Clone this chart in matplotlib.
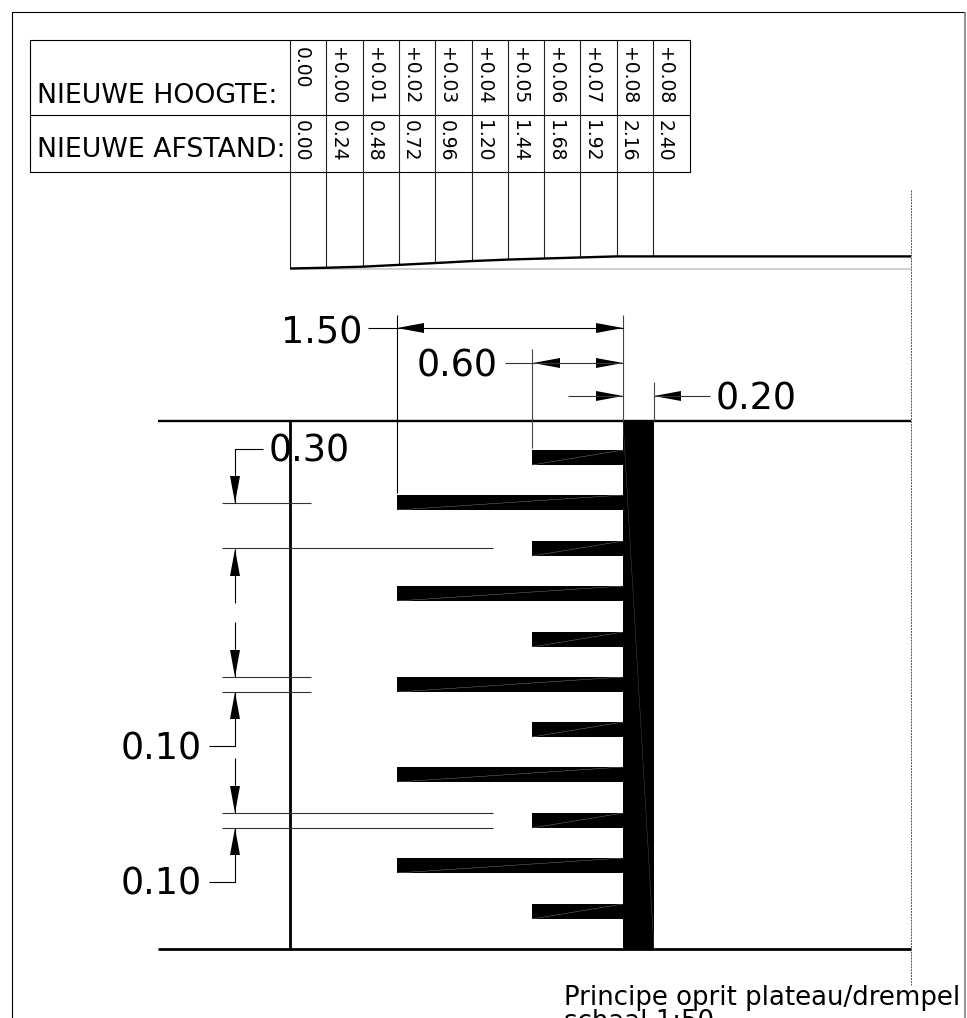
import matplotlib
matplotlib.use('Agg')
import matplotlib.pyplot as plt

# table
hoogte = ['0.00', '+0.00', '+0.01', '+0.02', '+0.03', '+0.04', '+0.05', '+0.06', '+0.07', '+0.08', '+0.08']
afstand = [0.00, 0.24, 0.48, 0.72, 0.96, 1.20, 1.44, 1.68, 1.92, 2.16, 2.40]
# profile as drawn, less rounded than the table
profiel = [0.000, 0.005, 0.012, 0.024, 0.036, 0.049, 0.059, 0.066, 0.073, 0.080, 0.080]

# strips of the plateau, pixel rows of their top edge
lang_y = [495, 586, 677, 767, 858]
kort_y = [450, 541, 632, 722, 813, 904]

# dimension labels
maat_boven = ['1.50', '0.60', '0.20']
maat_links = ['0.30', '0.10', '0.10']

X0 = 290
SCALE = 151.3
LW = 0.8
MAAT = 26.3


def line(xs, ys, lw=LW, c='k', **kw):
    ax.plot(xs, ys, color=c, lw=lw, solid_capstyle='butt', **kw)


def arrow(x, y, dx, dy):
    # tip at x,y and tail along dx,dy
    L = 27
    w = 5
    ax.fill([x, x + dx * L - dy * w, x + dx * L + dy * w],
            [y, y + dy * L - dx * w, y + dy * L + dx * w], color='k', lw=0)


fig = plt.figure(figsize=(9.67, 10.18), dpi=100)
ax = fig.add_axes([0, 0, 1, 1])
ax.set_xlim(0, 967)
ax.set_ylim(1018, 0)
ax.axis('off')

# page border
line([12, 12, 965], [1018, 12, 12], lw=0.8)
line([965, 965], [12, 1018], lw=1.2, c='#808080')

# table
line([30, 690, 690, 30, 30], [40, 40, 172, 172, 40])
line([30, 690], [115, 115])
ax.text(37, 93, 'NIEUWE HOOGTE:', fontsize=19.3, ha='left', va='center_baseline')
ax.text(37, 147, 'NIEUWE AFSTAND:', fontsize=19.3, ha='left', va='center_baseline')
for i in range(len(afstand)):
    x = X0 + afstand[i] * SCALE
    line([x, x], [40, 268 - profiel[i] * SCALE], c='#222222')
    ax.text(x + 11.5, 47, hoogte[i], rotation=-90, fontsize=13.5, ha='center', va='top')
    ax.text(x + 11.5, 120, '%.2f' % afstand[i], rotation=-90, fontsize=13.5, ha='center', va='top')

# length profile
line([X0, 911], [269, 269], c='#c8c8c8', lw=1.2)
px = [X0 + d * SCALE for d in afstand] + [911]
py = [268.5 - h * SCALE for h in profiel] + [268.5 - profiel[-1] * SCALE]
line(px, py, lw=1.7)

# plan view
line([158, 911], [421, 421], lw=1.7)
line([158, 911], [949, 949], lw=2)
line([290, 290], [421, 949], lw=2)
line([911, 911], [190, 985], lw=0.7, c='#555555', ls=(0, (2, 1)))

ax.fill([623, 654, 654, 623], [421, 421, 949, 949], color='k', lw=0)
line([623, 654], [421, 949], lw=0.3, c='#555555')
for y in lang_y:
    ax.fill([397, 623, 623, 397], [y, y, y + 15, y + 15], color='k', lw=0)
    line([397, 623], [y + 15, y], lw=0.3, c='#888888')
for y in kort_y:
    ax.fill([532, 623, 623, 532], [y, y, y + 15, y + 15], color='k', lw=0)
    line([532, 623], [y + 15, y], lw=0.3, c='#888888')

# top dimensions
line([397, 397], [315, 493])
line([623, 623], [315, 421], c='#444444')
line([532, 532], [349, 448], c='#444444')
line([654, 654], [382, 421], c='#444444')
line([368, 623], [328, 328])
arrow(397, 328, 1, 0)
arrow(623, 328, -1, 0)
ax.text(281, 329, maat_boven[0], fontsize=MAAT, ha='left', va='center_baseline')
line([505, 623], [363, 363], c='#333333')
arrow(533, 363, 1, 0)
arrow(623, 363, -1, 0)
ax.text(417, 362, maat_boven[1], fontsize=MAAT, ha='left', va='center_baseline')
line([568, 623], [396, 396], c='#333333')
arrow(623, 396, -1, 0)
line([654, 710], [396, 396], c='#333333')
arrow(654, 396, 1, 0)
ax.text(716, 395, maat_boven[2], fontsize=MAAT, ha='left', va='center_baseline')

# left dimensions
for y, x_end in zip([503, 548, 677, 692, 813, 828], [311, 493, 311, 311, 493, 493]):
    line([222, x_end], [y, y], c='#333333')
line([263, 235, 235], [449, 449, 503])
arrow(235, 503, 0, -1)
ax.text(269, 447, maat_links[0], fontsize=MAAT, ha='left', va='center_baseline')
line([235, 235], [549, 603])
arrow(235, 549, 0, 1)
line([235, 235], [622, 677])
arrow(235, 677, 0, -1)
line([235, 235, 209], [692, 746, 746])
arrow(235, 692, 0, 1)
ax.text(121, 745, maat_links[1], fontsize=MAAT, ha='left', va='center_baseline')
line([235, 235], [758, 813])
arrow(235, 813, 0, -1)
line([235, 235, 209], [828, 882, 882])
arrow(235, 828, 0, 1)
ax.text(121, 880, maat_links[2], fontsize=MAAT, ha='left', va='center_baseline')

# title block, second line runs off the page
ax.text(564, 1005, 'Principe oprit plateau/drempel', fontsize=18.7, ha='left', va='baseline')
ax.text(564, 1029, 'schaal 1:50', fontsize=18.7, ha='left', va='baseline', clip_on=True)

fig.savefig('out.png', dpi=100)
